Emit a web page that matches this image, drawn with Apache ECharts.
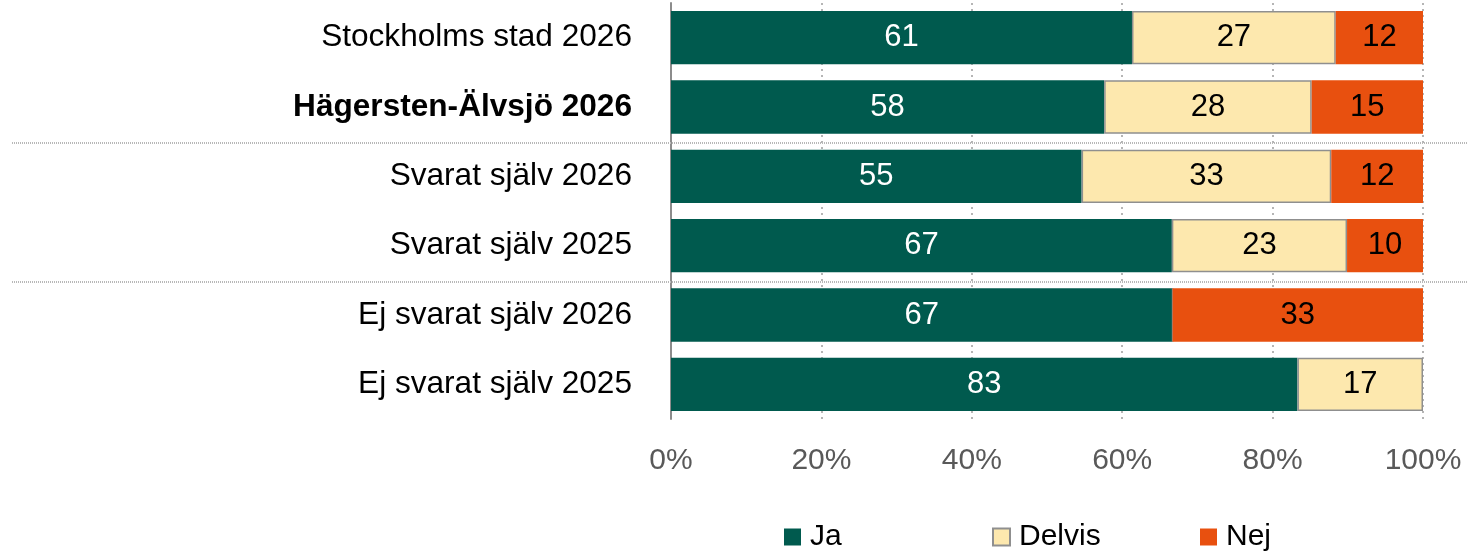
<!DOCTYPE html>
<html>
<head>
<meta charset="utf-8">
<script src="https://cdn.jsdelivr.net/npm/echarts@6/dist/echarts.min.js"></script>
<style>
html,body{margin:0;padding:0;background:#fff;}
#c{width:1468px;height:553px;}
</style>
</head>
<body>
<div id="c"></div>
<script>
var categories = ['Stockholms stad 2026', 'Hägersten-Älvsjö 2026', 'Svarat själv 2026', 'Svarat själv 2025', 'Ej svarat själv 2026', 'Ej svarat själv 2025'];
var jaValues = [61.3, 57.6, 54.6, 66.6, 66.7, 83.3];
var delvisValues = [27.1, 27.6, 33.2, 23.3, 0, 16.7];
var nejValues = [11.6, 14.8, 12.2, 10.1, 33.3, 0];
var xTicks = [0, 20, 40, 60, 80, 100];
var seriesNames = ['Ja', 'Delvis', 'Nej'];
var separatorsAfter = [1, 3];

var FONT = '"Liberation Sans", Arial, sans-serif';
var chart = echarts.init(document.getElementById('c'), null, {renderer: 'canvas'});

function lbl(color) {
  return {
    show: true,
    position: 'inside',
    color: color,
    fontSize: 31,
    fontFamily: FONT,
    formatter: function (p) { return p.value > 0 ? String(Math.round(p.value)) : ''; }
  };
}

var legendLefts = [784, 992, 1200];
var legends = seriesNames.map(function (n, i) {
  return {
    left: legendLefts[i],
    top: 522,
    padding: 0,
    itemGap: 0,
    itemWidth: 17,
    itemHeight: 17,
    icon: 'rect',
    selectedMode: false,
    textStyle: {fontSize: 30, fontFamily: FONT, color: '#000000', padding: [0, 0, 0, 4]},
    data: [n]
  };
});

var option = {
  animation: false,
  backgroundColor: '#ffffff',
  grid: {left: 671, right: 45, top: 3, bottom: 134, containLabel: false},
  xAxis: {
    type: 'value',
    min: 0, max: 100, interval: 20,
    axisLine: {show: false},
    axisTick: {show: false},
    splitLine: {show: true, lineStyle: {color: '#b5b5b5', width: 2, type: [2, 4]}},
    axisLabel: {
      margin: 27,
      color: '#595959',
      fontSize: 30,
      fontFamily: FONT,
      customValues: xTicks,
      formatter: function (v) { return v + '%'; }
    }
  },
  yAxis: {
    type: 'category',
    inverse: true,
    data: categories,
    axisLine: {show: true, lineStyle: {color: '#8c8c8c', width: 2}},
    axisTick: {show: false},
    splitLine: {show: false},
    axisLabel: {
      margin: 39,
      color: '#000000',
      fontSize: 31.6,
      fontFamily: FONT,
      formatter: function (v, i) { return i === 1 ? '{b|' + v + '}' : v; },
      rich: {b: {fontWeight: 'bold', fontSize: 31.6, fontFamily: FONT, color: '#000000'}}
    }
  },
  legend: legends,
  series: [
    {
      name: 'Ja', type: 'bar', stack: 's', data: jaValues,
      barCategoryGap: '23%',
      itemStyle: {color: '#005A4E'},
      label: lbl('#ffffff')
    },
    {
      name: 'Delvis', type: 'bar', stack: 's', data: delvisValues,
      itemStyle: {color: '#FDE8AE', borderColor: '#8f8f8f', borderWidth: 1.5},
      label: lbl('#000000')
    },
    {
      name: 'Nej', type: 'bar', stack: 's', data: nejValues,
      itemStyle: {color: '#E8500F'},
      label: lbl('#000000')
    }
  ]
};
chart.setOption(option);

var gfx = separatorsAfter.map(function (idx) {
  var y1 = chart.convertToPixel({yAxisIndex: 0}, idx);
  var y2 = chart.convertToPixel({yAxisIndex: 0}, idx + 1);
  var y = Math.round((y1 + y2) / 2 + 1.5);
  return {
    type: 'line',
    z: 100,
    shape: {x1: 12, y1: y, x2: 1468, y2: y},
    style: {stroke: '#b8b8b8', lineWidth: 2, lineDash: [1, 1]}
  };
});
chart.setOption({graphic: gfx});
</script>
</body>
</html>
